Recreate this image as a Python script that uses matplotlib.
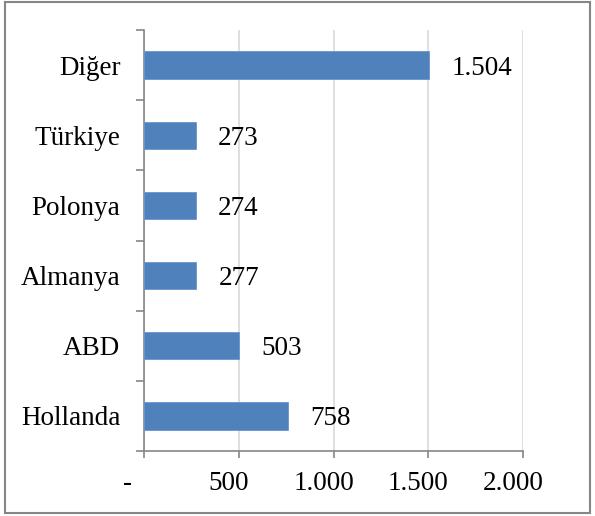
import matplotlib
matplotlib.use("Agg")
import matplotlib.pyplot as plt
from matplotlib.patches import Rectangle
from matplotlib.transforms import ScaledTranslation
import numpy as np

categories = ["Hollanda", "ABD", "Almanya", "Polonya", "Türkiye", "Diğer"]
values = [758, 503, 277, 274, 273, 1504]
value_labels = ["758", "503", "277", "274", "273", "1.504"]
xticks = [0, 500, 1000, 1500, 2000]
xtick_labels = ["-", "500", "1.000", "1.500", "2.000"]

plt.rcParams["font.family"] = ["Liberation Serif", "DejaVu Serif"]
fig = plt.figure(figsize=(5.95, 5.16), dpi=100)
ax = fig.add_axes([144/595, 1-451/516, (523-144)/595, (451-30)/516])

y = np.arange(len(categories))
ax.barh(y, values, height=0.39, color="#4f81bd", edgecolor="#6a95cc", linewidth=0.6, zorder=3)

FS = 19.5
ax.set_xlim(0, 2000)
ax.set_ylim(-0.5, len(categories)-0.5)
ax.set_xticks(xticks)
ax.set_xticklabels(xtick_labels, fontsize=FS)
ax.xaxis.grid(True, color="#d9d9d9", linewidth=1.2, zorder=0)
ax.set_axisbelow(True)

# y ticks at category boundaries, labels at centers
ax.set_yticks(np.arange(-0.5, len(categories), 1.0))
ax.set_yticklabels([])
ax.set_yticks(y, minor=True)
ax.set_yticklabels(categories, minor=True, fontsize=FS)
ax.tick_params(axis="y", which="minor", length=0, pad=17)
ax.tick_params(axis="y", which="major", length=6, width=1.2, color="#868686", direction="out")
ax.tick_params(axis="x", length=5, width=1.2, color="#868686", direction="out", pad=9.5)

for s in ["top", "right"]:
    ax.spines[s].set_visible(False)
for s in ["left", "bottom"]:
    ax.spines[s].set_color("#868686")
    ax.spines[s].set_linewidth(1.2)

# shift x tick labels left (accounting-format padding)
shifts = [-17, -10, -10, -10, -10]
for lab, sh in zip(ax.get_xticklabels(), shifts):
    lab.set_transform(lab.get_transform() + ScaledTranslation(sh/100, 0, fig.dpi_scale_trans))

for yi, v, t in zip(y, values, value_labels):
    ax.annotate(t, (v, yi), xytext=(16, 0), textcoords="offset points",
                ha="left", va="center_baseline", fontsize=FS)

fig.patches.append(Rectangle((5/595, 3/516), 585/595, 511/516, transform=fig.transFigure,
                             fill=False, edgecolor="#868686", linewidth=1.5))

fig.savefig("out.png", dpi=100)
